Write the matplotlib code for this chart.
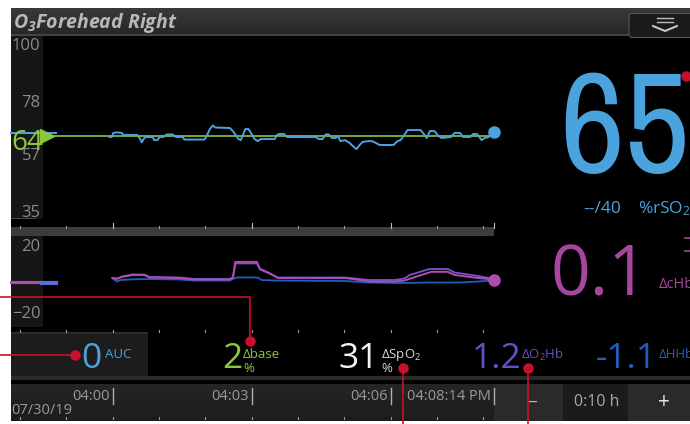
import numpy as np
import matplotlib
matplotlib.use("Agg")
import matplotlib.pyplot as plt
from matplotlib import font_manager as fm
from matplotlib.patches import Rectangle, FancyBboxPatch
from matplotlib.colors import LinearSegmentedColormap
from matplotlib.transforms import blended_transform_factory, offset_copy

plt.rcParams['font.family'] = ['Open Sans', 'DejaVu Sans']
plt.rcParams['mathtext.default'] = 'regular'

# ---------------- data ----------------
title_sensor = "O$_3$"
title_site = "Forehead Right"
rso2_value = "65"
baseline = 64
alarm_text = "--/40"
upper_ticks = [100, 78, 57, 35]
lower_ticks = [20, -20]
time_label_secs = [0, 180, 360]          # seconds after 04:00:00
time_labels = ["04:00", "04:03", "04:06"]
now_sec = 494                             # 04:08:14
now_label = "04:08:14 PM"
date_label = "07/30/19"
zoom_label = "0:10 h"

# rSO2 trace (seconds after 04:00:00, %)
rso2_t = [-4, -1, 1, 6, 12, 14, 32, 35, 38, 40, 43, 52, 54, 58, 61, 66, 70, 78, 82, 91,
          93, 119, 122, 126, 130, 133, 152, 157, 163, 166, 170, 172, 176, 180, 184, 188,
          192, 210, 213, 216, 222, 226, 263, 267, 272, 276, 280, 284, 289, 292, 295, 301,
          307, 311, 316, 320, 324, 331, 336, 341, 346, 364, 369, 373, 377, 382, 399, 403,
          407, 411, 417, 422, 426, 438, 443, 450, 454, 463, 467, 472, 476, 478, 482, 487, 494]
rso2_v = [63.8, 63.8, 65.4, 65.6, 65.4, 64.6, 64.6, 63.4, 61.7, 63.0, 63.8, 63.8, 62.6, 62.6,
          63.8, 63.8, 64.8, 64.8, 63.8, 63.8, 62.8, 62.8, 64.2, 66.9, 68.3, 67.5, 67.3, 65.7,
          63.0, 62.6, 65.4, 66.9, 66.9, 65.0, 63.0, 62.2, 63.0, 63.0, 64.6, 65.0, 65.0, 63.8,
          63.8, 63.0, 63.0, 64.8, 64.8, 63.4, 63.4, 64.2, 62.2, 62.6, 61.5, 60.3, 59.1, 60.7,
          61.9, 62.2, 62.2, 61.5, 60.7, 60.7, 62.2, 62.6, 64.2, 66.5, 66.5, 65.0, 63.4, 66.1,
          66.1, 64.2, 63.4, 63.8, 65.4, 65.4, 63.8, 63.8, 65.0, 65.0, 63.4, 62.6, 63.4, 63.8, 65.6]
rso2_old_t = [-132, -73]
rso2_old_v = [65.3, 65.3]

# delta traces (seconds after 04:00:00, umol/L)
chb_t = [0, 6, 12, 19, 26, 41, 48, 87, 106, 152, 156, 159, 187, 191, 203, 214, 301, 320,
         333, 365, 378, 388, 404, 413, 434, 443, 473, 494]
chb_v = [0.3, 0.0, 0.9, 1.5, 2.1, 2.1, 0.6, 0.3, -0.6, -0.6, 0.9, 9.9, 9.9, 5.7, 3.3, 0.3,
         0.3, -0.9, -1.8, -1.8, -1.2, 0.3, 2.7, 4.0, 4.0, 2.1, 0.3, -0.6]
o2hb_t = [0, 6, 12, 19, 26, 41, 48, 87, 106, 152, 156, 159, 187, 191, 203, 214, 301, 320,
          333, 365, 378, 385, 404, 411, 434, 443, 473, 494]
o2hb_v = [0.3, -0.3, 1.2, 1.8, 2.4, 2.4, 0.9, 0.6, -0.3, -0.3, 0.6, 9.0, 9.0, 5.4, 3.0, 0.6,
          0.6, -0.3, -0.9, -0.9, 0.0, 2.1, 4.8, 5.7, 5.7, 3.6, 1.5, -0.3]
hhb_t = [0, 6, 10, 22, 41, 87, 106, 152, 157, 161, 188, 193, 210, 301, 333, 372, 411, 450, 473, 494]
hhb_v = [0.0, -1.8, -0.9, -0.6, -0.3, -0.6, -1.2, -1.2, 0.0, 0.6, 0.6, -0.9, -1.2, -1.5,
         -2.4, -2.7, -2.4, -2.4, -1.8, -1.2]
chb_old_t = [-132, -73]
chb_old_v = [-1.9, -1.9]
hhb_old_t = [-91, -73]
hhb_old_v = [-2.5, -2.5]

# parameter row
auc_value = "0"
dbase_value = "2"
dspo2_value = "31"
do2hb_value = "1.2"
dhhb_value = "-1.1"
dchb_value = "0.1"

# ---------------- colours ----------------
BLUE = '#4ba3de'
GREEN = '#8dc63f'
MAGENTA = '#a8459f'
MAG_LINE = '#b04cb4'
VIOLET = '#6a4dbf'
VIO_LINE = '#7a52cc'
DBLUE = '#1f5fc0'
RED = '#c8102e'
GRAYTXT = '#8a8a8a'


# pick a regular-weight condensed face for the big rSO2 number, if one is installed
def _w(v):
    if isinstance(v, (int, float)):
        return float(v)
    return float(fm.weight_dict.get(str(v).lower(), 400))


_cands = [f for f in fm.fontManager.ttflist
          if ('Condensed' in f.name or 'Narrow' in f.name) and f.style == 'normal'
          and 'Mono' not in f.name and 'Serif' not in f.name]
if _cands:
    _best = min(_cands, key=lambda f: (abs(_w(f.weight) - 400) + (50 if 'Extra' in f.name or 'Semi' in f.name else 0)))
    big_font = fm.FontProperties(fname=_best.fname)
else:
    big_font = fm.FontProperties(family='Open Sans')

W, H = 690, 424
fig = plt.figure(figsize=(6.9, 4.24), dpi=100, facecolor='white')


def rect(l, t, r, b):
    return [l / W, 1 - b / H, (r - l) / W, (b - t) / H]


bg = fig.add_axes([0, 0, 1, 1])
bg.set_xlim(0, W); bg.set_ylim(H, 0); bg.axis('off')

ax1 = fig.add_axes(rect(44, 44, 494, 211))
ax2 = fig.add_axes(rect(44, 245, 494, 312))

fg = fig.add_axes([0, 0, 1, 1])
fg.set_xlim(0, W); fg.set_ylim(H, 0); fg.axis('off')


def vgrad(x0, x1, y0, y1, ctop, cbot, z=1):
    cm = LinearSegmentedColormap.from_list('g', [ctop, cbot])
    bg.imshow(np.linspace(0, 1, 64)[:, None], extent=(x0, x1, y1, y0), cmap=cm,
              aspect='auto', origin='upper', zorder=z, interpolation='bilinear')


def box(x0, y0, x1, y1, c, z=1):
    bg.add_patch(Rectangle((x0, y0), x1 - x0, y1 - y0, facecolor=c, edgecolor='none', zorder=z))


# main dark screen
box(11, 8, 690, 421, '#000000', 0)
# header
vgrad(11, 690, 8, 35, '#3a3a3a', '#262626')
box(11, 34, 690, 35.5, '#444444', 2)
# top-right button
bg.add_patch(FancyBboxPatch((629, 13.5), 66, 24, boxstyle='round,pad=0,rounding_size=3',
                            facecolor='#1b1b1b', edgecolor='#555555', lw=0.8, zorder=3))
bg.plot([657, 673], [18, 18], color='#bdbdbd', lw=1.0, zorder=4)
bg.plot([657, 673], [22, 22], color='#bdbdbd', lw=1.0, zorder=4)
bg.plot([653, 665, 677], [26, 31, 26], color='#d0d0d0', lw=1.4, zorder=4)

# left scale panels
box(11, 35, 43, 219, '#161616')
box(11, 217.5, 36, 219, '#4a4a4a', 2)
box(11, 236, 43, 327, '#161616')
# separator band between plots
box(11, 227, 494, 236, '#3c3c3c')
# info row
box(11, 333, 148, 376, '#1c1c1c')
box(11, 332, 148, 333.5, '#2c2c2c', 2)
box(11, 376, 690, 380, '#2b2b2b')
# timeline bar
vgrad(11, 690, 384, 421, '#262626', '#1c1c1c')
box(494, 384, 563, 421, '#2a2a2a', 2)
box(563, 384, 628, 421, '#1b1b1b', 2)
box(628, 384, 690, 421, '#2a2a2a', 2)
bg.set_xlim(0, W); bg.set_ylim(H, 0)

# ---------------- trend axes ----------------
left_sec = now_sec - (494 - 44) / (139.0 / 180.0)
for ax in (ax1, ax2):
    ax.set_facecolor('none')
    for s in ax.spines.values():
        s.set_visible(False)
    ax.set_xlim(left_sec, now_sec)
    ax.set_xticks([])
    ax.tick_params(axis='y', length=0, pad=2.5, labelcolor=GRAYTXT, labelsize=12)

ax1.set_ylim(35, 100)
ax1.set_yticks(upper_ticks)
ax1.axhline(baseline, color=GREEN, lw=1.2, zorder=2)
ax1.plot(rso2_t, rso2_v, color=BLUE, lw=1.4, zorder=3, solid_joinstyle='round')
ax1.plot(rso2_old_t, rso2_old_v, color=BLUE, lw=1.4, zorder=3, clip_on=False)
ax1.plot([rso2_t[-1]], [rso2_v[-1]], 'o', color=BLUE, ms=8, zorder=4, clip_on=False)

ax2.set_ylim(-20, 20)
ax2.set_yticks(lower_ticks)
ax2.plot(chb_old_t, chb_old_v, color=MAG_LINE, lw=2.2, clip_on=False, zorder=2)
ax2.plot(hhb_old_t, hhb_old_v, color='#5a6fd8', lw=3.0, clip_on=False, zorder=2)
ax2.plot(hhb_t, hhb_v, color=DBLUE, lw=1.3, zorder=2)
ax2.plot(o2hb_t, o2hb_v, color=VIO_LINE, lw=1.3, zorder=3)
ax2.plot(chb_t, chb_v, color=MAG_LINE, lw=1.4, zorder=4)
ax2.plot([chb_t[-1]], [chb_v[-1]], 'o', color=MAG_LINE, ms=8, zorder=5, clip_on=False)

# ---------------- overlays ----------------
tx = blended_transform_factory(ax1.transData, fg.transData)
ty = blended_transform_factory(fg.transData, ax1.transData)

# minute ticks
minutes = list(range(-120, now_sec, 60))
for t in minutes:
    for (y0, y1) in [(226, 228), (330, 332), (417, 419)]:
        fg.plot([t, t], [y0, y1], color='#9a9a9a', lw=0.8, transform=tx, zorder=2)
for t in time_label_secs + [now_sec]:
    fg.plot([t, t], [223, 228], color='#bbbbbb', lw=0.8, transform=tx, zorder=2)
    fg.plot([t, t], [388, 404], color='#b0b0b0', lw=1.0, transform=tx, zorder=2)

lab_tr = offset_copy(tx, fig=fig, x=-3, y=0, units='dots')
for t, lab in zip(time_label_secs, time_labels):
    fg.text(t, 396, lab, transform=lab_tr, ha='right', va='center', fontsize=10.5, color='#9a9a9a')
fg.text(now_sec, 396, now_label, transform=lab_tr, ha='right', va='center', fontsize=10.5,
        color='#9a9a9a')
fg.text(11, 411, date_label, ha='left', va='center', fontsize=10.5, color='#9a9a9a')
fg.text(532, 402, "\u2013", ha='center', va='center', fontsize=14, color='#b5b5b5')
fg.text(597, 402, zoom_label, ha='center', va='center', fontsize=11.5, color='#a8a8a8')
fg.text(664, 402, "+", ha='center', va='center', fontsize=15, color='#e6e6e6')

# title
fg.text(13, 28, title_sensor + title_site, ha='left', va='baseline', fontsize=14,
        fontweight='bold', style='italic', color='#b8b8b8')

# baseline marker & label
fg.plot([47], [baseline], marker='>', ms=10, color=GREEN, transform=ty, zorder=5, clip_on=False)
fg.text(11, 150, str(baseline), ha='left', va='baseline', fontsize=20, color=GREEN, zorder=6)

# big numbers
fg.text(559, 172, rso2_value, ha='left', va='baseline', fontproperties=big_font,
        fontsize=103, color=BLUE)
fg.text(583, 209, alarm_text, ha='left', va='center', fontsize=12.5, color=BLUE)
fg.text(638, 209, "%rSO$_2$", ha='left', va='center', fontsize=12.5, color=BLUE)
fg.text(550, 295, dchb_value, ha='left', va='baseline', fontsize=50, color=MAGENTA)
fg.text(659, 284, "\u0394cHb", ha='left', va='center', fontsize=10.5, color=MAGENTA)
fg.plot([685, 690], [238, 238], color=MAGENTA, lw=1.2)
fg.plot([685, 690], [251, 251], color=MAGENTA, lw=1.2)

# parameter row
BIG = 25.5
fg.text(91, 368, auc_value, ha='center', va='baseline', fontsize=BIG, color=BLUE)
fg.text(105, 355, "AUC", ha='left', va='center', fontsize=9.5, color=BLUE)
fg.text(222, 368, dbase_value, ha='left', va='baseline', fontsize=BIG, color=GREEN)
fg.text(243, 355, "\u0394base", ha='left', va='center', fontsize=9.5, color=GREEN)
fg.text(243, 368, "%", ha='left', va='center', fontsize=9.5, color=GREEN)
fg.text(338, 368, dspo2_value, ha='left', va='baseline', fontsize=BIG, color='#f2f2f2')
fg.text(381, 355, "\u0394SpO$_2$", ha='left', va='center', fontsize=9.5, color='#d8d8d8')
fg.text(381, 368, "%", ha='left', va='center', fontsize=9.5, color='#d8d8d8')
fg.text(472, 368, do2hb_value, ha='left', va='baseline', fontsize=BIG, color=VIOLET)
fg.text(521, 355, "\u0394O$_2$Hb", ha='left', va='center', fontsize=9.5, color=VIOLET)
fg.text(596, 368, dhhb_value, ha='left', va='baseline', fontsize=BIG, color=DBLUE)
fg.text(659, 355, "\u0394HHb", ha='left', va='center', fontsize=9.5, color=DBLUE)

# red annotation leaders
rk = dict(color=RED, lw=1.2, zorder=8, solid_capstyle='butt')
fg.plot([0, 250, 250], [297, 297, 341], **rk)
fg.plot([0, 75], [355, 355], **rk)
fg.plot([403, 403], [368, 424], **rk)
fg.plot([528, 528], [368, 424], **rk)
for (x, y) in [(250, 341), (75, 355), (403, 368), (528, 368), (686, 76)]:
    fg.plot([x], [y], 'o', color=RED, ms=6.5, zorder=9)

fg.set_xlim(0, W); fg.set_ylim(H, 0)
fig.savefig('out.png', dpi=100, facecolor='white')
